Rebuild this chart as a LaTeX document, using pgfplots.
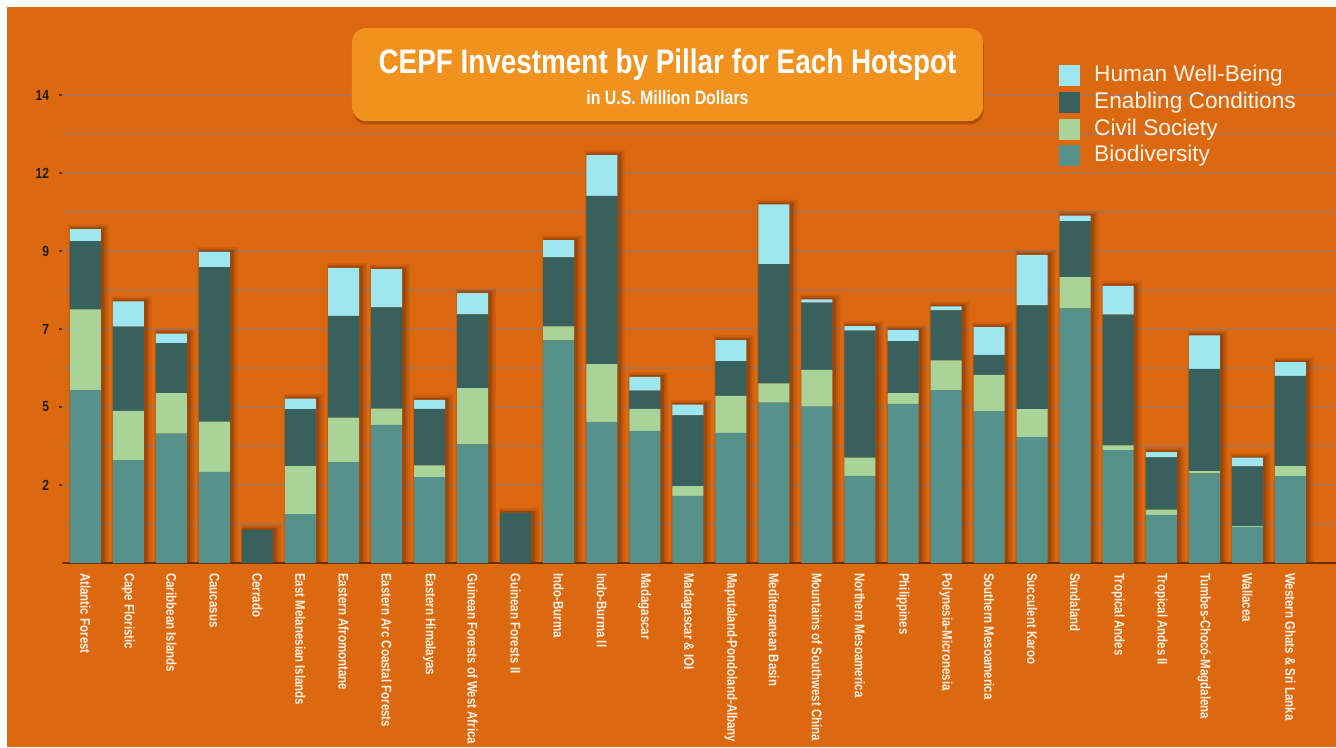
\documentclass[border=0pt]{standalone}
\usepackage{fontspec}
\setmainfont{Liberation Sans}
\newfontfamily\cond[FakeStretch=0.82]{Liberation Sans}
\usepackage{pgfplots}
\pgfplotsset{compat=1.18}
\usepackage{pgfplotstable}
\usetikzlibrary{shadows}

\definecolor{bg}{RGB}{220,104,16}
\definecolor{boxor}{RGB}{241,145,30}
\definecolor{gridc}{RGB}{178,114,72}
\definecolor{hwb}{RGB}{158,230,240}
\definecolor{enab}{RGB}{56,96,92}
\definecolor{civ}{RGB}{168,212,154}
\definecolor{bio}{RGB}{86,145,138}
\definecolor{axc}{RGB}{105,45,10}
\definecolor{txt}{RGB}{255,244,232}
\definecolor{shd}{RGB}{70,25,0}

% values in US$ million
\pgfplotstableread{
x  bio  civil enab hwb
0  5.17 2.42  2.04 0.36
1  3.08 1.47  2.52 0.76
2  3.87 1.21  1.50 0.28
3  2.73 1.50  4.62 0.46
4  0    0     0.99 0
5  1.46 1.44  1.70 0.32
6  3.02 1.33  3.04 1.44
7  4.13 0.49  3.03 1.14
8  2.57 0.35  1.69 0.27
9  3.55 1.68  2.21 0.63
10 0    0     1.50 0
11 6.66 0.42  2.06 0.52
12 4.22 1.73  5.03 1.22
13 3.95 0.66  0.55 0.41
14 2.01 0.29  2.12 0.32
15 3.89 1.11  1.04 0.63
16 4.80 0.57  3.57 1.79
17 4.68 1.10  2.01 0.10
18 2.61 0.54  3.80 0.14
19 4.76 0.32  1.56 0.33
20 5.17 0.89  1.50 0.12
21 4.54 1.09  0.60 0.83
22 3.77 0.83  3.11 1.51
23 7.62 0.93  1.68 0.16
24 3.38 0.14  3.91 0.86
25 1.44 0.16  1.56 0.16
26 2.68 0.07  3.06 1.00
27 1.08 0.02  1.79 0.26
28 2.60 0.30  2.70 0.41
}\hotspots

\pgfplotsset{
  base/.style={
    scale only axis, width=955.5pt, height=351pt,
    at={(46.5pt,-422.25pt)}, anchor=south west,
    xmin=-0.541, xmax=29.06, ymin=0, ymax=14,
  },
  shadowbar/.style={fill=shd, draw=none, opacity=#1},
}

\begin{document}
\begin{tikzpicture}
\useasboundingbox (0pt,0pt) rectangle (1002pt,-560.25pt);
\fill[white] (0pt,0pt) rectangle (1002pt,-560.25pt);
\fill[bg] (5.25pt,-5.25pt) rectangle (1002pt,-560.25pt);

% grid and soft bar shadows
\begin{axis}[base,
    ybar, bar width=26pt,
    axis line style={draw=none}, tick style={draw=none},
    xtick=\empty,
    ytick={1.1667,2.3333,3.5,4.6667,5.8333,7,8.1667,9.3333,10.5,11.6667,12.8333,14},
    yticklabels={},
    ymajorgrids, major grid style={draw=gridc, line width=1.1pt},
]
\addplot[shadowbar=0.10, bar shift=2.5pt, bar width=30pt]
  table[x=x, y expr=\thisrow{bio}+\thisrow{civil}+\thisrow{enab}+\thisrow{hwb}+0.14]{\hotspots};
\addplot[shadowbar=0.14, bar shift=2pt, bar width=27.5pt]
  table[x=x, y expr=\thisrow{bio}+\thisrow{civil}+\thisrow{enab}+\thisrow{hwb}+0.09]{\hotspots};
\addplot[shadowbar=0.22, bar shift=1.5pt, bar width=25.5pt]
  table[x=x, y expr=\thisrow{bio}+\thisrow{civil}+\thisrow{enab}+\thisrow{hwb}+0.05]{\hotspots};
\end{axis}

% stacked bars
\begin{axis}[base,
    ybar stacked, bar width=23.25pt,
    axis x line*=bottom, axis y line*=left,
    x axis line style={draw=axc, line width=1.5pt, -},
    y axis line style={draw=none},
    xtick={0,...,28}, xtick style={draw=none},
    xticklabels={Atlantic Forest, Cape Floristic, Caribbean Islands, Caucasus, Cerrado,
      East Melanesian Islands, Eastern Afromontane, Eastern Arc Coastal Forests,
      Eastern Himalayas, Guinean Forests of West Africa, Guinean Forests II, Indo-Burma,
      Indo-Burma II, Madagascar, Madagascar \& IOI, Maputaland-Pondoland-Albany,
      Mediterranean Basin, Mountains of Southwest China, Northern Mesoamerica,
      Philippines, Polynesia-Micronesia, Southern Mesoamerica, Succulent Karoo,
      Sundaland, Tropical Andes, Tropical Andes II, Tumbes-Chocó-Magdalena,
      Wallacea, Western Ghats \& Sri Lanka},
    xticklabel style={rotate=-90, anchor=west, inner sep=0pt, text=txt,
      font=\cond\bfseries\fontsize{10.5}{12}\selectfont},
    xticklabel shift=5pt,
    ytick={2.3333,4.6667,7,9.3333,11.6667,14},
    yticklabels={2,5,7,9,12,14},
    ytick style={draw=axc, line width=1pt},
    tick align=outside, major tick length=2.5pt,
    yticklabel style={inner sep=0pt, text=black!88,
      font=\cond\bfseries\fontsize{11}{12}\selectfont},
    yticklabel shift=7pt,
    reverse legend, legend cell align=left,
    legend image code/.code={\fill[#1] (0pt,-7.9pt) rectangle (15.75pt,7.9pt);},
    legend style={at={(rel axis cs:0.782,1.064)}, anchor=north west,
      draw=none, fill=none, inner sep=0pt, row sep=4.2pt,
      font=\fontsize{17}{20}\selectfont, text=txt,
      nodes={inner sep=0pt, text height=12.3pt, text depth=3.5pt},
      /tikz/every odd column/.append style={column sep=11pt}},
]
\addplot[fill=bio, draw=none] table[x=x, y=bio]{\hotspots};
\addlegendentry{Biodiversity}
\addplot[fill=civ, draw=none] table[x=x, y=civil]{\hotspots};
\addlegendentry{Civil Society}
\addplot[fill=enab, draw=none] table[x=x, y=enab]{\hotspots};
\addlegendentry{Enabling Conditions}
\addplot[fill=hwb, draw=none] table[x=x, y=hwb]{\hotspots};
\addlegendentry{Human Well-Being}
\end{axis}

% title box
\node[fill=boxor, rounded corners=10.5pt, minimum width=473.25pt, minimum height=69.75pt,
  drop shadow={shadow xshift=0.5pt, shadow yshift=-2.5pt, opacity=0.3, fill=shd}]
  at (500.6pt,-55.9pt) {};
\node[text=white, font=\cond\bfseries\fontsize{25.5}{30}\selectfont]
  at (500.6pt,-48.5pt) {CEPF Investment by Pillar for Each Hotspot};
\node[text=white, font=\cond\bfseries\fontsize{14.5}{17}\selectfont]
  at (500.6pt,-73.3pt) {in U.S. Million Dollars};
\end{tikzpicture}
\end{document}
